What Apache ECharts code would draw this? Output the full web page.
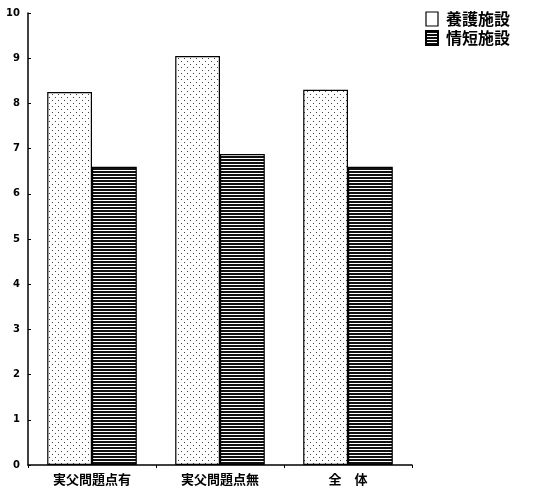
<!DOCTYPE html>
<html>
<head>
<meta charset="utf-8">
<script src="https://cdn.jsdelivr.net/npm/echarts@6/dist/echarts.min.js"></script>
<style>
  html, body { margin: 0; padding: 0; background: #fff; }
  #chart { width: 534px; height: 493px; }
</style>
</head>
<body>
<div id="chart"></div>
<script>
// データ
var categories = ['実父問題点有', '実父問題点無', '全　体'];
var seriesNames = ['養護施設', '情短施設'];
var yohoValues = [8.25, 9.05, 8.3];
var joutanValues = [6.6, 6.88, 6.6];
var yTicks = [0, 10, 1];

(function() {
    // 点模様
    function dotPattern() {
        var c = document.createElement('canvas');
        c.width = 6; c.height = 6;
        var ctx = c.getContext('2d');
        ctx.fillStyle = '#fff';
        ctx.fillRect(0, 0, 6, 6);
        ctx.fillStyle = '#444';
        ctx.fillRect(1, 1, 1, 1);
        ctx.fillRect(4, 4, 1, 1);
        return c;
    }
    // 横線模様
    function stripePattern() {
        var c = document.createElement('canvas');
        c.width = 4; c.height = 3;
        var ctx = c.getContext('2d');
        ctx.fillStyle = '#fff';
        ctx.fillRect(0, 0, 4, 3);
        ctx.fillStyle = '#111';
        ctx.fillRect(0, 0, 4, 2);
        return c;
    }

    var myChart = echarts.init(document.getElementById('chart'));
    var font = '"Noto Sans CJK JP", sans-serif';
    var option = {
        animation: false,
        grid: {
            left: 28,
            right: 122,
            top: 13,
            bottom: 28
        },
        legend: {
            orient: 'vertical',
            left: 425,
            top: 11,
            padding: 0,
            itemWidth: 12,
            itemHeight: 14,
            itemGap: 3,
            icon: 'rect',
            textStyle: {
                color: '#000',
                fontFamily: font,
                fontWeight: 'bold',
                fontSize: 16,
                padding: [0, 0, 0, 3]
            },
            data: [
                { name: seriesNames[0], itemStyle: { color: '#fff', borderColor: '#000', borderWidth: 1.2 } },
                { name: seriesNames[1] }
            ]
        },
        xAxis: {
            type: 'category',
            data: categories,
            axisLine: { lineStyle: { color: '#000', width: 1.5 } },
            axisTick: { show: true, length: 3, lineStyle: { color: '#000' } },
            axisLabel: {
                color: '#000',
                fontFamily: font,
                fontWeight: 'bold',
                fontSize: 13,
                margin: 8
            }
        },
        yAxis: {
            type: 'value',
            min: yTicks[0],
            max: yTicks[1],
            interval: yTicks[2],
            axisLine: { show: true, lineStyle: { color: '#000', width: 1.5 } },
            axisTick: { show: true, inside: true, length: 3, lineStyle: { color: '#000' } },
            splitLine: { show: false },
            axisLabel: {
                color: '#000',
                fontFamily: 'DejaVu Sans, sans-serif',
                fontWeight: 'bold',
                fontSize: 10,
                margin: 8
            }
        },
        series: [{
            name: seriesNames[0],
            type: 'bar',
            data: yohoValues,
            barGap: '0%',
            barCategoryGap: '30%',
            itemStyle: {
                color: { image: dotPattern(), repeat: 'repeat' },
                borderColor: '#000',
                borderWidth: 1.2
            }
        }, {
            name: seriesNames[1],
            type: 'bar',
            data: joutanValues,
            barGap: '0%',
            barCategoryGap: '30%',
            itemStyle: {
                color: { image: stripePattern(), repeat: 'repeat' },
                borderColor: '#000',
                borderWidth: 1.2
            }
        }]
    };
    myChart.setOption(option);
    window.addEventListener("resize", function() {
        myChart.resize();
    });
})();
</script>
</body>
</html>
